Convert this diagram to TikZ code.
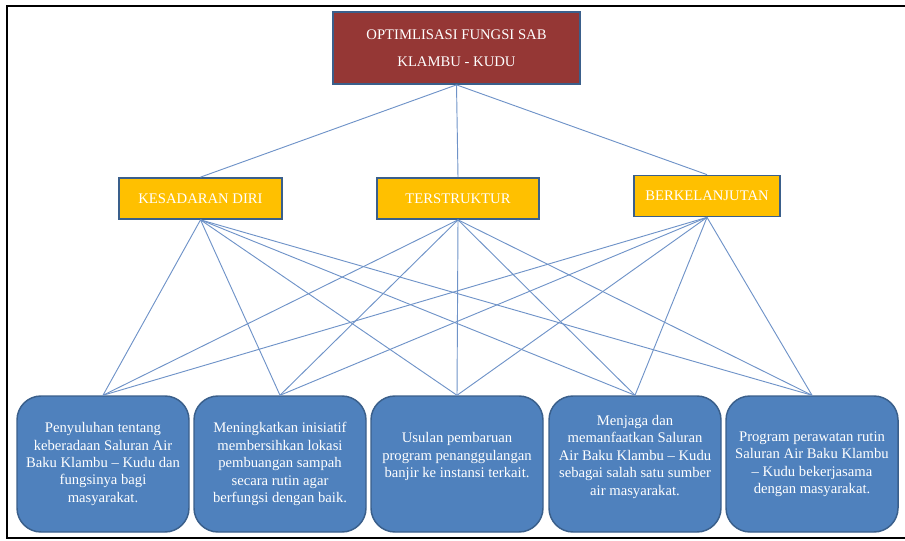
\documentclass[tikz,border=0pt]{standalone}
\usepackage{fontspec}
\setmainfont{Liberation Serif}
\definecolor{sabred}{HTML}{953735}
\definecolor{sabgold}{HTML}{FFC000}
\definecolor{sabblue}{HTML}{4F81BD}
\definecolor{sabedge}{HTML}{3A5F8B}
\definecolor{sabline}{HTML}{6F93C8}
\begin{document}
\begin{tikzpicture}[x=0.75pt,y=-0.75pt,font=\fontsize{11pt}{13.1pt}\selectfont,
    goal/.style={draw=sabedge,line width=1.3pt,fill=sabred,text=white,align=center,minimum width=185pt,minimum height=54pt},
    aspect/.style={draw=sabedge,line width=1.3pt,fill=sabgold,text=white,align=center,minimum height=30.75pt},
    action/.style={draw=sabedge,line width=1.1pt,fill=sabblue,text=white,align=center,rounded corners=18pt,minimum width=129pt,minimum height=102pt},
    link/.style={draw=sabline,line width=0.7pt}]
                    \useasboundingbox (0,0) rectangle (905,541);
                    \draw[line width=1.6pt] (915,6) -- (7,6) -- (7,538) -- (915,538);

                    \node[goal] (g) at (456.5,48){OPTIMLISASI FUNGSI SAB\\[7pt]KLAMBU - KUDU};

                    \node[aspect,minimum width=122pt] (k) at (200.5,198.5){KESADARAN DIRI};
                    \node[aspect,minimum width=122pt] (t) at (458,198.5){TERSTRUKTUR};
                    \node[aspect,minimum width=109pt] (b) at (707,196){BERKELANJUTAN};

                    \node[action] (a1) at (103,464){Penyuluhan tentang\\keberadaan Saluran Air\\Baku Klambu -- Kudu dan\\fungsinya bagi\\masyarakat.};
                    \node[action] (a2) at (280,464){Meningkatkan inisiatif\\membersihkan lokasi\\pembuangan sampah\\secara rutin agar\\berfungsi dengan baik.};
                    \node[action] (a3) at (457,464){Usulan pembaruan\\program penanggulangan\\banjir ke instansi terkait.\\~};
                    \node[action] (a4) at (635,464){Menjaga dan\\memanfaatkan Saluran\\Air Baku Klambu -- Kudu\\sebagai salah satu sumber\\air masyarakat.\\~};
                    \node[action] (a5) at (812,464){Program perawatan rutin\\Saluran Air Baku Klambu\\-- Kudu bekerjasama\\dengan masyarakat.};

                    \draw[link] (g.south) -- (k.north);
                    \draw[link] (g.south) -- (t.north);
                    \draw[link] (g.south) -- (b.north);

                    \draw[link] (k.south) -- (a1.north);
                    \draw[link] (k.south) -- (a2.north);
                    \draw[link] (k.south) -- (a3.north);
                    \draw[link] (k.south) -- (a4.north);
                    \draw[link] (k.south) -- (a5.north);
                    \draw[link] (t.south) -- (a1.north);
                    \draw[link] (t.south) -- (a2.north);
                    \draw[link] (t.south) -- (a3.north);
                    \draw[link] (t.south) -- (a4.north);
                    \draw[link] (t.south) -- (a5.north);
                    \draw[link] (b.south) -- (a1.north);
                    \draw[link] (b.south) -- (a2.north);
                    \draw[link] (b.south) -- (a3.north);
                    \draw[link] (b.south) -- (a4.north);
                    \draw[link] (b.south) -- (a5.north);
                \end{tikzpicture}
\end{document}
